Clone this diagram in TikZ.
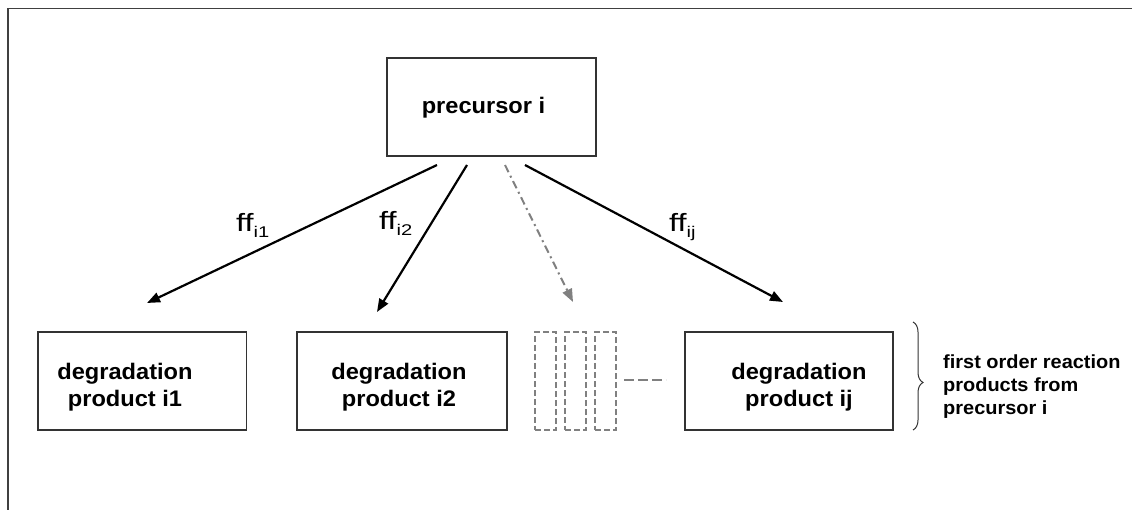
\documentclass[tikz,border=0pt]{standalone}
\usepackage{fontspec}
\setmainfont{Liberation Sans}[FakeStretch=1.05]
\newfontfamily\wideff{Liberation Sans}[FakeStretch=1.3]
\usetikzlibrary{arrows.meta,decorations.pathreplacing}
\begin{document}
\begin{tikzpicture}[x=1pt,y=-1pt,
  frameline/.style={draw=black!75,line width=1.5pt},
  box/.style={draw=black!80,line width=1.2pt,minimum width=#1,minimum height=98pt,inner sep=0pt},
  ghost/.style={draw=black!50,line width=1.3pt,dash pattern=on 6pt off 3pt,minimum width=21pt,minimum height=98pt,inner sep=0pt},
  boxtext/.style={inner sep=0pt,anchor=base,font=\fontsize{22.5}{27}\selectfont\bfseries},
  fflabel/.style={inner sep=0pt,anchor=base west,font=\wideff\fontsize{25}{25}\selectfont},
  notetext/.style={inner sep=0pt,anchor=base west,font=\fontsize{19}{23.5}\selectfont\bfseries},
  flow/.style={line width=2.2pt,black,-{Triangle[length=13pt,width=10pt]}},
  flowghost/.style={line width=2pt,black!50,dash pattern=on 8pt off 4pt on 2pt off 4pt,-{Triangle[length=13pt,width=10pt]}},
  ghostline/.style={line width=1.6pt,black!50,dash pattern=on 10pt off 4pt}]
\useasboundingbox (0,0) rectangle (1132,510);
% frame
\coordinate (fbl) at (8,510);
\coordinate (ftl) at (8,8.5);
\coordinate (ftr) at (1132,8.5);
\draw[frameline] (fbl) -- (ftl) -- (ftr);
% boxes
\node[box=209pt] (prec) at (491.5,107) {};
\node[box=208.5pt] (b1) at (142.25,381) {};
\node[box=210pt] (b2) at (402,381) {};
\node[box=208pt] (bij) at (789,381) {};
\node[ghost] (g1) at (545.5,381) {};
\node[ghost] (g2) at (575.5,381) {};
\node[ghost] (g3) at (605.5,381) {};
% texts
\node[boxtext] (precT) at (483.5,114) {precursor i};
\node[boxtext] (b1T) at (125,380) {\begin{tabular}[t]{@{}c@{}}degradation\\product i1\end{tabular}};
\node[boxtext] (b2T) at (399,380) {\begin{tabular}[t]{@{}c@{}}degradation\\product i2\end{tabular}};
\node[boxtext] (bijT) at (799,380) {\begin{tabular}[t]{@{}c@{}}degradation\\product ij\end{tabular}};
% arrows
\coordinate (s1) at (437,165);
\coordinate (e1) at (147,303);
\coordinate (s2) at (467,165);
\coordinate (e2) at (377,312);
\coordinate (s3) at (505,165);
\coordinate (e3) at (573,302);
\coordinate (s4) at (525,165);
\coordinate (e4) at (783,302);
\draw[flow] (s1) -- (e1);
\draw[flow] (s2) -- (e2);
\draw[flowghost] (s3) -- (e3);
\draw[flow] (s4) -- (e4);
% labels
\node[fflabel] (ff1) at (236,232) {ff\raisebox{-6pt}{\fontsize{15.5}{15.5}\selectfont i1}};
\node[fflabel] (ff2) at (379,230) {ff\raisebox{-6pt}{\fontsize{15.5}{15.5}\selectfont i2}};
\node[fflabel] (ffj) at (669,232) {ff\raisebox{-6pt}{\fontsize{15.5}{15.5}\selectfont ij}};
% dashed continuation
\coordinate (dl1) at (624,380);
\coordinate (dl2) at (666,380);
\draw[ghostline] (dl1) -- (dl2);
% brace
\coordinate (br1) at (913,322);
\coordinate (br2) at (913,430);
\draw[black!80,line width=1pt,decorate,decoration={brace,amplitude=10pt,aspect=0.56}] (br1) -- (br2);
\node[notetext] (note) at (943,368) {\begin{tabular}[t]{@{}l@{}}first order reaction\\products from\\precursor i\end{tabular}};
\end{tikzpicture}
\end{document}
